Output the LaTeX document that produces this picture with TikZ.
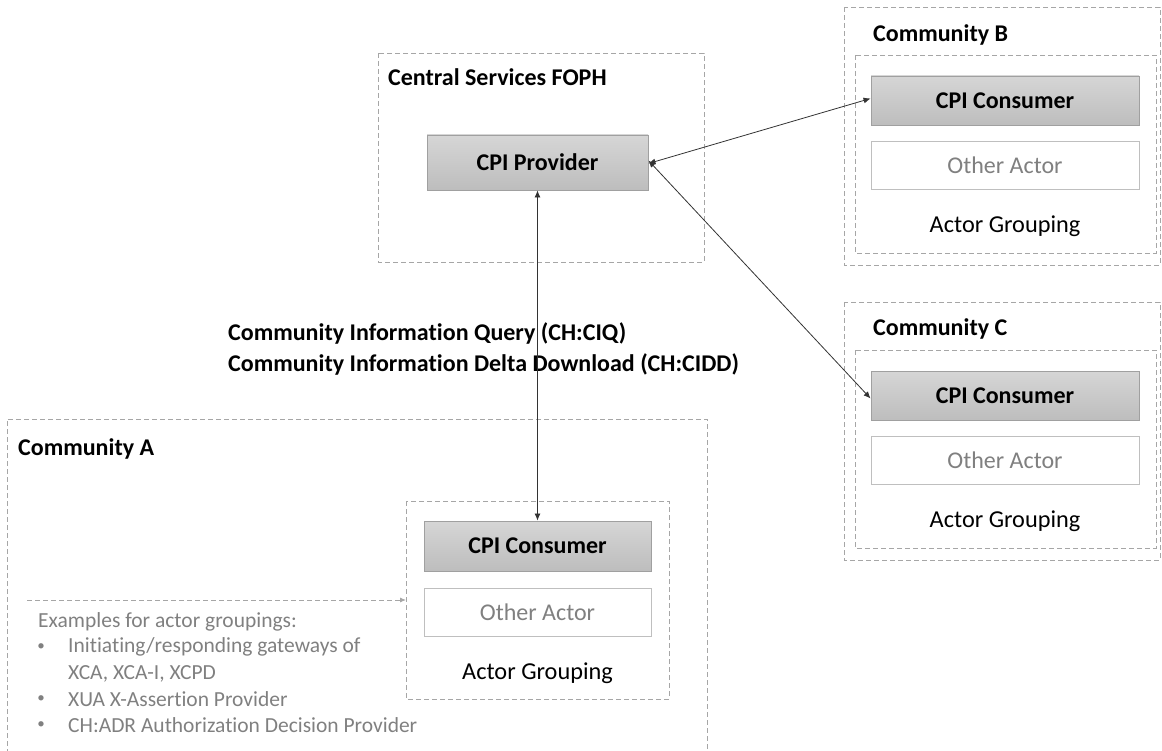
\documentclass[tikz,border=0pt]{standalone}
\usepackage{fontspec}
\setmainfont[Ligatures=NoCommon]{Carlito}
\usetikzlibrary{arrows.meta}
\definecolor{dashgray}{HTML}{A6A6A6}
\definecolor{boxedge}{HTML}{A0A0A0}
\definecolor{lightedge}{HTML}{BFBFBF}
\definecolor{txtgray}{HTML}{808080}
\definecolor{topgray}{HTML}{D6D6D6}
\definecolor{botgray}{HTML}{BDBDBD}
\tikzset{
  region/.style={draw=dashgray, dash pattern=on 5pt off 3pt, line width=0.9pt},
  cpibox/.style={draw=boxedge, line width=0.9pt, top color=topgray, bottom color=botgray, font=\fontsize{24}{28}\selectfont\bfseries, inner sep=0pt},
  otherbox/.style={draw=lightedge, line width=0.9pt, fill=white, text=txtgray, font=\fontsize{24}{28}\selectfont, inner sep=0pt},
  titletxt/.style={font=\fontsize{24}{28}\selectfont\bfseries, anchor=west, inner sep=0pt},
  grptxt/.style={font=\fontsize{24.3}{28}\selectfont, inner sep=0pt},
  link/.style={draw=black!80, line width=0.8pt, {Latex[length=7pt,width=6pt]}-{Latex[length=7pt,width=6pt]}},
  exline/.style={text=txtgray, font=\fontsize{21.5}{25}\selectfont, anchor=west, inner sep=0pt},
  bullettxt/.style={text=txtgray, font=\fontsize{15}{18}\selectfont, inner sep=0pt},
}
\begin{document}
\begin{tikzpicture}[x=1pt,y=-1pt]
\useasboundingbox (0,0) rectangle (1162,751);
\begin{scope}
\clip (0,0) rectangle (1162,751);
% Central services
\draw[region] (378,53) rectangle (704,262);
\node[titletxt] (tfoph) at (388,77) {Central Services FOPH};
\node[cpibox, minimum width=221pt, minimum height=55pt] (prov) at (537.5,162.5) {CPI Provider};
% Community B
\draw[region] (844,7) rectangle (1160,265);
\node[titletxt] (tb) at (873,35) {Community B};
\draw[region] (855,55) rectangle (1156,253);
\node[cpibox, minimum width=268pt, minimum height=49pt] (consb) at (1005,100.5) {CPI Consumer};
\node[otherbox, minimum width=268pt, minimum height=48pt] (othb) at (1005,165) {Other Actor};
\node[grptxt] (gb) at (1005,226) {Actor Grouping};
% Community C
\draw[region] (844,302) rectangle (1160,560);
\node[titletxt] (tc) at (873,329) {Community C};
\draw[region] (855,350) rectangle (1156,548);
\node[cpibox, minimum width=268pt, minimum height=49pt] (consc) at (1005,395.5) {CPI Consumer};
\node[otherbox, minimum width=268pt, minimum height=48pt] (othc) at (1005,460) {Other Actor};
\node[grptxt] (gc) at (1005,521) {Actor Grouping};
% Community A
\draw[region] (7,770) -- (7,419) -- (707,419) -- (707,770);
\node[titletxt] (ta) at (18,449) {Community A};
\draw[region] (406,501) rectangle (669,699);
\node[cpibox, minimum width=227pt, minimum height=50pt] (consa) at (537.5,546) {CPI Consumer};
\node[otherbox, minimum width=227pt, minimum height=48pt] (otha) at (537.5,612) {Other Actor};
\node[grptxt] (ga) at (537.5,673) {Actor Grouping};
\coordinate (exstart) at (27,600);
\coordinate (exend) at (406,600);
\draw[draw=dashgray, dash pattern=on 5pt off 3pt, line width=0.9pt, -{Latex[length=6pt,width=5pt]}] (exstart) -- (exend);
\node[exline] (ex0) at (38,622) {Examples for actor groupings:};
\node[bullettxt] (b1) at (41,647) {•};
\node[exline] (ex1) at (68,647) {Initiating/responding gateways of};
\node[exline] (ex1b) at (68,674) {XCA, XCA-I, XCPD};
\node[bullettxt] (b2) at (41,699) {•};
\node[exline] (ex2) at (68,699) {XUA X-Assertion Provider};
\node[bullettxt] (b3) at (41,725) {•};
\node[exline] (ex3) at (68,725) {CH:ADR Authorization Decision Provider};
% label
\node[titletxt] (lq) at (228,333) {Community Information Query (CH:CIQ)};
\node[titletxt] (ld) at (228,364) {Community Information Delta Download (CH:CIDD)};
% connectors
\draw[link] (prov.south) -- (consa.north);
\draw[link] ([yshift=-1pt]prov.east) -- ([yshift=2pt]consb.west);
\draw[link] ([yshift=2pt]prov.east) -- ([yshift=-3pt]consc.west);
\end{scope}
\end{tikzpicture}
\end{document}
